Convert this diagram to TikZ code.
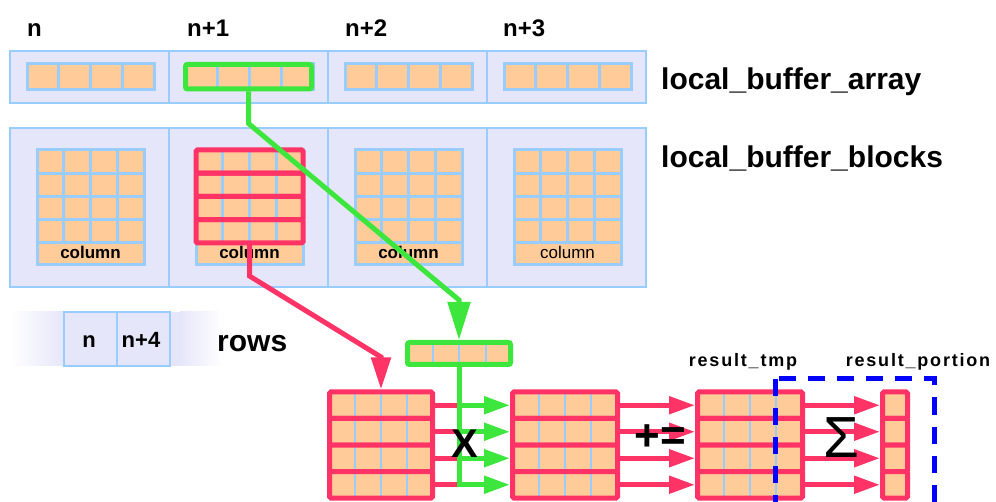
\documentclass[tikz,border=0pt]{standalone}
\usepackage{fontspec}
\setmainfont{Liberation Sans}
\usetikzlibrary{arrows.meta}
\definecolor{lav}{HTML}{E6E6FA}
\definecolor{lblue}{HTML}{99CCFF}
\definecolor{cellor}{HTML}{FFCC99}
\definecolor{grn}{HTML}{3DE63D}
\definecolor{rd}{HTML}{FF3366}
\definecolor{dblue}{HTML}{0000FF}
\newcommand\fsz[1]{\fontsize{#1}{#1}\selectfont}
\begin{document}
\begin{tikzpicture}[x=1pt,y=-1pt,
  outerbox/.style={draw=lblue,fill=lav,line width=2pt},
  gridline/.style={draw=lblue,line width=3pt},
  thinline/.style={draw=lblue,line width=2pt},
  redrow/.style={draw=rd,line width=5pt,rounded corners=1.5pt},
  redline/.style={draw=rd,line width=5pt},
  grnline/.style={draw=grn,line width=5pt},
  grnbox/.style={draw=grn,line width=5pt,rounded corners=2pt,inner sep=0pt},
  bigtip/.style={-{Triangle[length=26pt,width=17pt]}},
  lbl/.style={inner sep=0pt,font=\bfseries\fsz{24}},
  biglbl/.style={inner sep=0pt,font=\bfseries\fsz{30}},
  collbl/.style={inner sep=0pt,anchor=base,font=\bfseries\fsz{17}},
  reslbl/.style={inner sep=0pt,anchor=base,font=\bfseries\fsz{18}\addfontfeatures{LetterSpace=10}}
]
\useasboundingbox (0,0) rectangle (996,502);

% ---- top row: local_buffer_array
\foreach \i in {0,1,2,3}{
  \pgfmathsetmacro\xa{10+159*\i}
  \draw[outerbox] (\xa,51) rectangle ++(159,52);
  \fill[cellor] (\xa+17,64) rectangle (\xa+144,90);
  \foreach \k in {1,2,3}{\draw[gridline] (\xa+17+31.75*\k,64) -- ++(0,26);}
  \draw[gridline] (\xa+17,64) rectangle (\xa+144,90);
}

% ---- second row: local_buffer_blocks
\foreach \i in {0,1,2,3}{
  \pgfmathsetmacro\xa{10+159*\i}
  \draw[outerbox] (\xa,128) rectangle ++(159,159);
  \fill[cellor] (\xa+27,150) rectangle (\xa+134,265);
  \foreach \k in {1,2,3}{\draw[gridline] (\xa+27+26.75*\k,150) -- ++(0,93);}
  \foreach \k in {1,2,3,4}{\draw[gridline] (\xa+27,150+23.25*\k) -- ++(107,0);}
  \draw[gridline] (\xa+27,150) rectangle (\xa+134,265);
}
\node[collbl] (c0) at (90.5,259) {column};
\node[collbl] (c1) at (249.5,259) {column};
\node[collbl] (c2) at (408.5,259) {column};
\node[collbl,font=\mdseries\fsz{17}] (c3) at (567.5,259) {column};

% red rows highlighted in block n+1
\foreach \k in {0,1,2,3}{\draw[redrow] (196,150+23.25*\k) rectangle (303,173.25+23.25*\k);}
\coordinate (rbot) at (249.5,243);

% green highlight in array n+1
\node[grnbox,minimum width=126pt,minimum height=24.5pt] (gtop) at (248.5,76.75) {};

% ---- labels
\node[lbl,anchor=base west] (ln0) at (27,37) {n};
\node[lbl,anchor=base west] (ln1) at (187,37) {n+1};
\node[lbl,anchor=base west] (ln2) at (345,37) {n+2};
\node[lbl,anchor=base west] (ln3) at (503,37) {n+3};
\node[biglbl,anchor=base west] (lba) at (661,90) {local\_buffer\_array};
\node[biglbl,anchor=base west] (lbb) at (661,168) {local\_buffer\_blocks};

% ---- rows indicator
\shade[left color=white,right color=lav] (10,312) rectangle (64,366);
\fill[lav] (64,312) rectangle (180,366);
\shade[left color=lav,right color=white] (180,312) rectangle (222,366);
\draw[thinline] (64,312) rectangle (170,366);
\draw[thinline] (117,312) -- (117,366);
\node[lbl,anchor=base,font=\bfseries\fsz{22}] (rn) at (89,348) {n};
\node[lbl,anchor=base,font=\bfseries\fsz{22}] (rn4) at (141,348) {n+4};
\node[biglbl,anchor=base west] (rows) at (217,352) {rows};

% ---- small green vector
\fill[cellor] (408,343) rectangle (510,364);
\foreach \x in {433,459,486}{\draw[thinline] (\x,344) -- (\x,363);}
\node[grnbox,minimum width=103pt,minimum height=22pt] (gsmall) at (459,353.5) {};

% ---- matrices
\foreach \nm/\xl/\xr/\nc in {m1/329.5/432.5/4,m2/512.5/617.5/4,m3/697.5/802.5/4,mp/882.5/907.5/1}{
  \pgfmathsetmacro\dx{(\xr-\xl)/4}
  \foreach \k in {1,2,3,4}{
    \pgfmathsetmacro\ya{392+26.5*(\k-1)}
    \pgfmathsetmacro\yb{\ya+26.5}
    \pgfmathsetmacro\yc{\ya+13.25}
    \fill[cellor] (\xl,\ya) rectangle (\xr,\yb);
    \ifnum\nc>1
      \foreach \c in {1,2,3}{\draw[thinline] ({\xl+\c*\dx},\ya) -- ({\xl+\c*\dx},\yb);}
    \fi
    \draw[redrow] (\xl,\ya) rectangle (\xr,\yb);
    \coordinate (\nm w\k) at (\xl-2.5,\yc);
    \coordinate (\nm e\k) at (\xr+2.5,\yc);
  }
}
\coordinate (m1top) at (381,389.5);

% ---- connectors
\foreach \k in {1,2,3,4}{\draw[redline] (m1e\k) -- (m1e\k -| gsmall);}
\draw[grnline,bigtip] (gsmall.south) -- (m2w4 -| gsmall) -- (m2w4);
\foreach \k in {1,2,3}{\draw[grnline,bigtip] (m2w\k -| gsmall) -- (m2w\k);}
\foreach \k in {1,2,3,4}{
  \draw[redline,bigtip] (m2e\k) -- (m3w\k);
  \draw[redline,bigtip] (m3e\k) -- (mpw\k);
}
\draw[grnline,-{Triangle[length=38pt,width=22pt]}] (gtop.south) -- ++(0,32) -- (459,300) -- (gsmall.north);
\draw[redline,-{Triangle[length=32pt,width=19pt]}] (rbot) -- (249.5,276) -- (381,357) -- (m1top);

% ---- blue dashed frame
\draw[dblue,line width=5pt,dash pattern=on 17pt off 12pt] (775.5,379) rectangle (934,506);

% ---- operator and result labels
\node[inner sep=0pt,font=\bfseries\fsz{40}] (xop) at (465,443.5) {X};
\node[inner sep=0pt,font=\bfseries\fsz{44}] (pe) at (660,438) {+=};
\node[inner sep=0pt,font=\fsz{58}] (sig) at (841,438) {Σ};
\node[reslbl] (rtmp) at (743,367) {result\_tmp};
\node[reslbl] (rpor) at (918,367) {result\_portion};
\end{tikzpicture}
\end{document}
